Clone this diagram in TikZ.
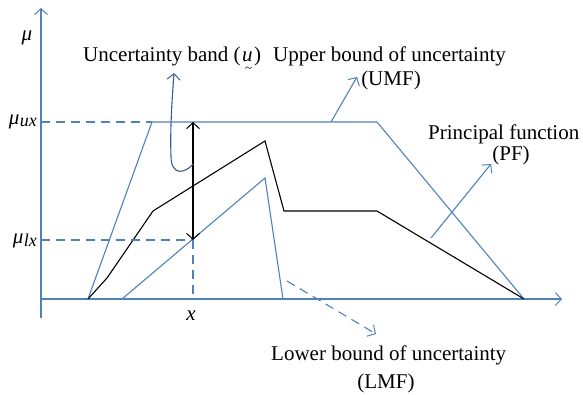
\documentclass[tikz,border=0pt]{standalone}
\usepackage{fontspec}
\setmainfont{Liberation Serif}
\usetikzlibrary{arrows.meta}
\definecolor{lblue}{HTML}{4F81BD}
\definecolor{dblue}{HTML}{3D5C8E}
\newcommand{\utildeu}{\textit{u}\llap{\raisebox{-1.05ex}{\fontsize{13}{13}\selectfont\textasciitilde}\kern0.5pt}}
\tikzset{
  tip/.style={-{Straight Barb[length=6pt,width=13pt,line width=1pt]}},
  axisline/.style={lblue, line width=1.3pt, tip},
  bluecurve/.style={lblue, line width=1.1pt, line join=miter},
  blackcurve/.style={black, line width=1.1pt},
  guide/.style={lblue, line width=1.1pt, dash pattern=on 9pt off 6pt},
  lbl/.style={inner sep=0pt, font=\fontsize{21}{25}\selectfont},
}
\begin{document}
\begin{tikzpicture}[x=1pt,y=-1pt]
\useasboundingbox (0,0) rectangle (583,395);
% axes
\coordinate (ybot) at (41,318);
\coordinate (ytop) at (41,8);
\coordinate (xl) at (41,299);
\coordinate (xr) at (562,299);
\draw[axisline] (ybot) -- (ytop);
\draw[axisline] (xl) -- (xr);
% UMF
\coordinate (u1) at (88,299);
\coordinate (u2) at (152,122);
\coordinate (u3) at (377,122);
\coordinate (u4) at (524,299);
\draw[bluecurve] (u1) -- (u2) -- (u3) -- (u4);
% PF
\coordinate (p2) at (107,278);
\coordinate (p3) at (153,211);
\coordinate (p4) at (265,141);
\coordinate (p5) at (284,211);
\coordinate (p6) at (377,211);
\draw[blackcurve] (u1) -- (p2) -- (p3) -- (p4) -- (p5) -- (p6) -- (u4);
% LMF
\coordinate (l1) at (122,299);
\coordinate (l2) at (265,178);
\coordinate (l3) at (283,299);
\draw[bluecurve] (l1) -- (l2) -- (l3);
% guides
\coordinate (yux) at (41,122);
\coordinate (ylx) at (41,240);
\coordinate (xpt) at (193,240);
\coordinate (xbase) at (193,299);
\coordinate (xtop) at (193,122);
\draw[guide] (yux) -- (u2);
\draw[guide] (ylx) -- (xpt);
\draw[guide] (xpt) -- (xbase);
% double arrow
\draw[black, line width=1.1pt, {Straight Barb[length=6pt,width=13pt,line width=1pt]}-{Straight Barb[length=6pt,width=13pt,line width=1pt]}] (xtop) -- (xpt);
% labels
\node[lbl] (mu) at (27,38) {\textit{μ}};
\node[lbl, anchor=east] (mux) at (37,122) {\textit{μ}\kern0.5pt\raisebox{-0.25ex}{\fontsize{18}{20}\selectfont\textit{ux}}};
\node[lbl, anchor=east] (mlx) at (37,241) {\textit{μ}\kern0.5pt\raisebox{-0.25ex}{\fontsize{18}{20}\selectfont\textit{lx}}};
\node[lbl] (xlab) at (191,316) {\textit{x}};
\node[lbl, anchor=base west] (ub) at (83,62) {Uncertainty band (\kern1.5pt\utildeu\kern1.5pt)};
\node[lbl, anchor=base west] (upb) at (273,62) {Upper bound of uncertainty};
\node[lbl, anchor=base] (umf) at (391,86) {(UMF)};
\node[lbl, anchor=base west] (pf) at (428,140) {Principal function};
\node[lbl, anchor=base] (pfa) at (511,161) {(PF)};
\node[lbl, anchor=base west] (lb) at (271,360) {Lower bound of uncertainty};
\node[lbl, anchor=base] (lmf) at (386,388) {(LMF)};
% pointer arrows
\coordinate (ubs) at (193,164);
\coordinate (ube) at (174,73);
\draw[dblue, line width=1.1pt, tip] (ubs) .. controls (186,173) and (171,177) .. (171,156) .. controls (170,130) and (172,100) .. (ube);
\coordinate (ums) at (331,122);
\coordinate (ume) at (357,77);
\draw[lblue, line width=1.1pt, tip] (ums) -- (ume);
\coordinate (pfs) at (431,238);
\coordinate (pfe) at (491,164);
\draw[lblue, line width=1.1pt, tip] (pfs) -- (pfe);
\coordinate (lbs) at (287,281);
\coordinate (lbe) at (376,334);
\draw[lblue, line width=1.1pt, dash pattern=on 9pt off 6pt, tip] (lbs) -- (lbe);
\end{tikzpicture}
\end{document}
